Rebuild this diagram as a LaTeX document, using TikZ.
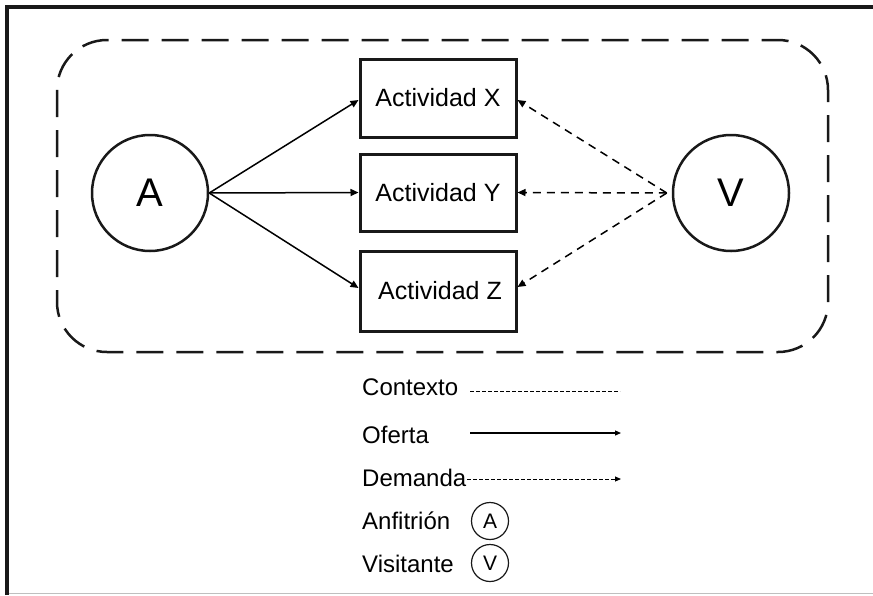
\documentclass[tikz,border=0pt]{standalone}
\usepackage{fontspec}
\setmainfont{Liberation Sans}
\usetikzlibrary{arrows.meta,calc}
\begin{document}
\begin{tikzpicture}[x=1pt,y=-1pt,
  frameline/.style={line width=3.5pt,black!90},
  actbox/.style={draw=black!90,line width=3pt,minimum width=156pt,inner sep=0pt,font=\fontsize{25}{29}\selectfont},
  bigcirc/.style={draw=black!90,circle,line width=2.5pt,minimum size=116pt,inner sep=0pt,font=\fontsize{40}{44}\selectfont},
  smallcirc/.style={draw=black!90,circle,line width=1.2pt,minimum size=37pt,inner sep=0pt,font=\fontsize{21}{23}\selectfont},
  legtext/.style={anchor=west,inner sep=0pt,font=\fontsize{24}{28}\selectfont},
  offer/.style={line width=1.5pt,-{Triangle[length=8pt,width=7pt]}},
  demand/.style={line width=1.5pt,dash pattern=on 8pt off 6pt,-{Triangle[length=8pt,width=7pt]}},
  legdot/.style={line width=1pt,dash pattern=on 3.5pt off 2.5pt},
]
\useasboundingbox (0,0) rectangle (873,595);

% outer frame
\draw[frameline] (7,595) -- (7,7) -- (873,7);
\draw[black!25,line width=1pt] (9,593.5) -- (873,593.5);

% context boundary
\draw[black!90,line width=2.5pt,dash pattern=on 27pt off 13pt,rounded corners=50pt]
  (57,40) rectangle (828,352);

% host and visitor
\node[bigcirc] (A) at (150,193) {A};
\node[bigcirc] (V) at (731,193) {V};

% activities
\node[actbox,minimum height=78pt] (X) at (438,98) {Actividad X};
\node[actbox,minimum height=77pt] (Y) at (438,192.5) {Actividad Y};
\node[actbox,minimum height=80pt] (Z) at (438,291) {\hspace{4pt}Actividad Z};

% supply
\draw[offer] (A.east) -- ($(X.west)+(0,2)$);
\draw[offer] (A.east) -- (Y.west);
\draw[offer] (A.east) -- ($(Z.west)+(0,-3)$);

% demand
\coordinate (vs) at ($(V.west)+(-5,0)$);
\draw[demand] (vs) -- ($(X.east)+(0,2)$);
\draw[demand] (vs) -- (Y.east);
\draw[demand] (vs) -- ($(Z.east)+(0,-4)$);

% legend
\node[legtext] (lc) at (362,387) {Contexto};
\node[legtext] (lo) at (362,435) {Oferta};
\node[legtext] (ld) at (362,478) {Demanda};
\node[legtext] (la) at (362,521) {Anfitrión};
\node[legtext] (lv) at (362,564) {Visitante};

\coordinate (c1) at (470,391);
\coordinate (c2) at (620,391);
\coordinate (o1) at (470,433);
\coordinate (o2) at (621,433);
\coordinate (d1) at (467,479);
\coordinate (d2) at (621,479);
\draw[legdot] (c1) -- (c2);
\draw[line width=1.2pt,-{Triangle[length=6pt,width=5pt]}] (o1) -- (o2);
\draw[legdot,-{Triangle[length=6pt,width=5pt]}] (d1) -- (d2);

\node[smallcirc] (sa) at (490,521) {A};
\node[smallcirc] (sv) at (490,563) {V};
\end{tikzpicture}
\end{document}
